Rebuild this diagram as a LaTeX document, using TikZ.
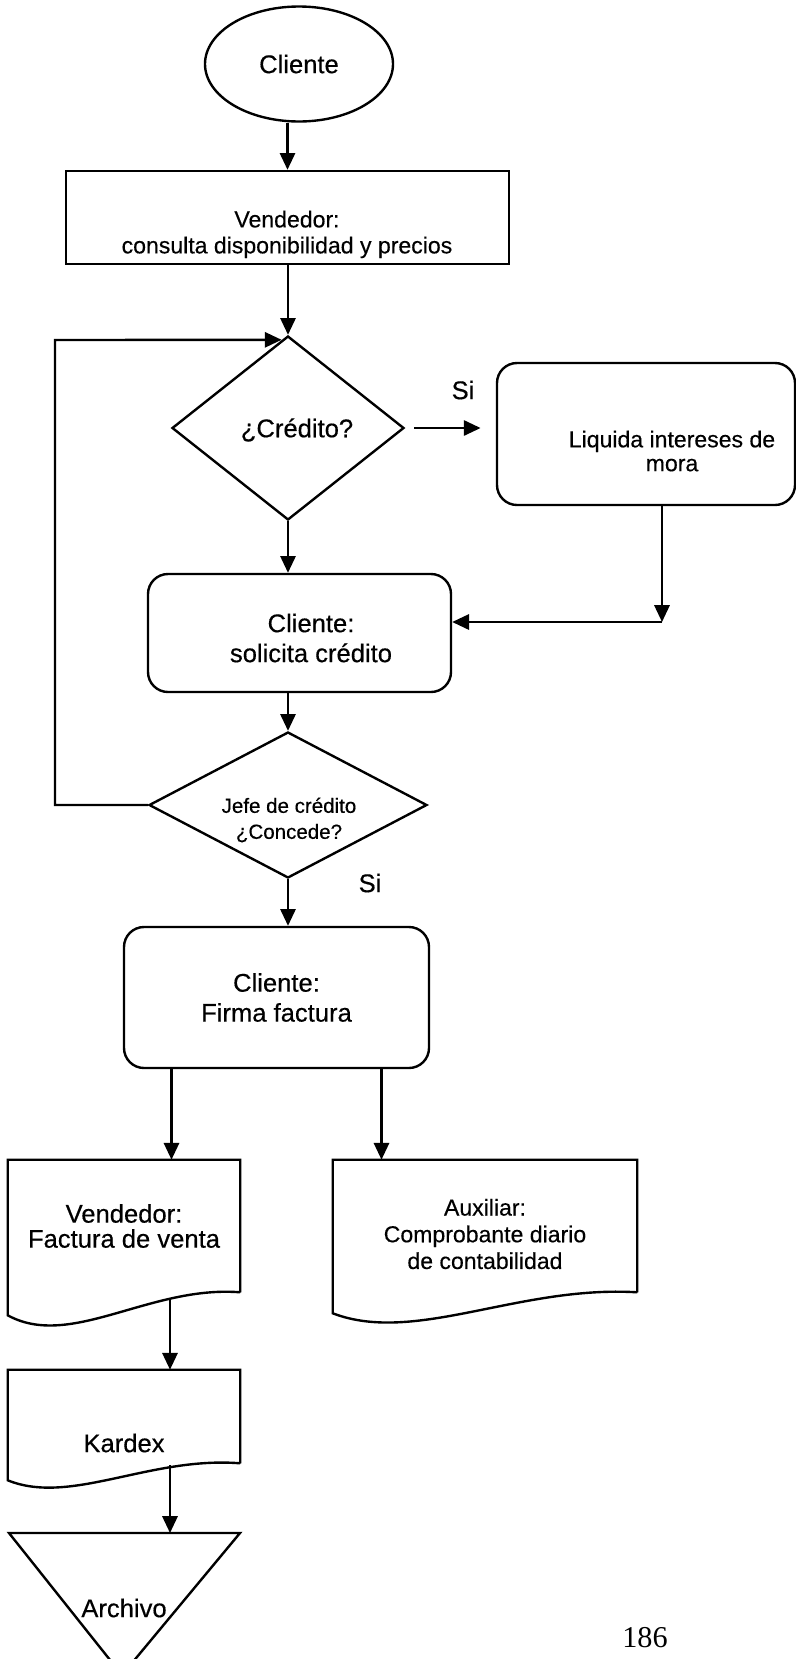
\documentclass[tikz,border=0pt]{standalone}
\usepackage{fontspec}
\setmainfont{Liberation Sans}[FakeBold=0.4]
\newfontfamily\numfont{Liberation Serif}
\usetikzlibrary{arrows.meta,calc,shapes.geometric}
\tikzset{
  arr/.style={-{Triangle[length=4.2mm,width=3.8mm]},line width=1.7pt},
  ln/.style={line width=1.7pt},
  proc/.style={draw,ln,inner sep=0pt},
  rproc/.style={proc,rounded corners=5mm},
  dec/.style={proc,diamond},
  term/.style={proc,ellipse},
  docb/.style={inner sep=0pt,align=center},
  big/.style={align=center,font=\fontsize{18.2}{21.3}\selectfont},
  mid/.style={align=center,font=\fontsize{16.4}{18.5}\selectfont},
  sml/.style={align=center,font=\fontsize{14.6}{18.5}\selectfont}
}
\newcommand{\docshape}[2]{\draw[ln] (#1.south east) -- (#1.north east) -- (#1.north west) -- ($(#1.south west)+(0,-#2)$) .. controls ($(#1.south west)!0.27!(#1.south east)+(0,-2.5*#2)$) and ($(#1.south west)!0.61!(#1.south east)+(0,0.18)$) .. (#1.south east);}
\begin{document}
\begin{tikzpicture}
  \useasboundingbox (0,0) rectangle (19.9,-41.475);
  \node[term,big,minimum width=4.7cm,minimum height=2.875cm] (cli) at (7.475,-1.6) {Cliente};
  \node[proc,minimum width=11.075cm,minimum height=2.325cm] (vend) at (7.1875,-5.4375) {};
  \node[mid] (vend-t) at (7.175,-5.86) {Vendedor:\\consulta disponibilidad y precios};
  \node[dec,minimum width=5.8cm,minimum height=4.6cm] (cred) at (7.2,-10.7) {};
  \node[big] (cred-t) at (7.425,-10.75) {¿Crédito?};
  \node[rproc,minimum width=7.45cm,minimum height=3.55cm] (liq) at (16.15,-10.85) {};
  \node[mid,font=\fontsize{16.4}{17}\selectfont] (liq-t) at (16.8,-11.275) {Liquida intereses de\\mora};
  \node[rproc,minimum width=7.575cm,minimum height=2.95cm] (sol) at (7.4875,-15.825) {};
  \node[big] (sol-t) at (7.775,-15.95) {Cliente:\\solicita crédito};
  \node[dec,minimum width=6.95cm,minimum height=3.65cm] (jefe) at (7.2,-20.125) {};
  \node[sml] (jefe-t) at (7.225,-20.5) {Jefe de crédito\\¿Concede?};
  \node[rproc,big,minimum width=7.625cm,minimum height=3.525cm] (firma) at (6.9125,-24.9375) {Cliente:\\Firma factura};
  \node[docb,minimum width=5.8cm,minimum height=3.3cm,font=\fontsize{18.2}{17.8}\selectfont] (vfact) at (3.1,-30.65) {Vendedor:\\Factura de venta};
  \node[docb,minimum width=7.6cm,minimum height=3.3cm] (aux) at (12.125,-30.65) {};
  \node[mid,font=\fontsize{16.4}{19}\selectfont] (aux-t) at (12.125,-30.85) {Auxiliar:\\Comprobante diario\\de contabilidad};
  \node[docb,minimum width=5.8cm,minimum height=2.325cm] (kard) at (3.1,-35.4125) {};
  \node[big] (kard-t) at (3.1,-36.075) {Kardex};

  \draw[arr] (cli.south -| vend.north) -- (vend.north);
  \draw[arr] (vend.south -| cred.north) -- (cred.north);
  \draw[arr] (cred.south) -- (cred.south |- sol.north);
  \draw[arr,shorten <=2.3mm,shorten >=3.8mm] (cred.east) -- (cred.east -| liq.west);
  \node[big] (si1) at (11.575,-9.75) {Si};
  \coordinate (liq-c) at (16.55,-15.55);
  \draw[arr] (liq.south -| liq-c) -- (liq-c);
  \draw[arr] (liq-c) -- (liq-c -| sol.east);
  \draw[arr] (sol.south -| jefe.north) -- (jefe.north);
  \coordinate (back) at (1.375,-8.5);
  \draw[arr] (jefe.west) -| (back) -- ($(cred.north)+(-0.16,-0.125)$);
  \draw[arr] (jefe.south) -- (jefe.south |- firma.north);
  \node[big] (si2) at (9.25,-22.075) {Si};
  \draw[arr] ($(firma.south)+(-2.625,0)$) coordinate (f1) -- (f1 |- vfact.north);
  \draw[arr] ($(firma.south)+(2.625,0)$) coordinate (f2) -- (f2 |- aux.north);

  \docshape{vfact}{0.575}
  \docshape{aux}{0.525}
  \docshape{kard}{0.425}
  \coordinate (vf-out) at (4.25,-32.5);
  \draw[arr] (vf-out) -- (vf-out |- kard.north);
  \coordinate (kd-out) at (4.25,-36.625);
  \coordinate (arch) at (3.1125,-38.325);
  \draw[arr] (kd-out) -- (kd-out |- arch);
  \draw[ln] ($(arch)+(-2.8875,0)$) -- ($(arch)+(2.8875,0)$) -- ($(arch)+(-0.0625,-3.55)$) -- cycle;
  \node[big] (arch-t) at (3.1,-40.2) {Archivo};
  \node[font=\numfont\fontsize{21.5}{24}\selectfont] (pag) at (16.125,-40.95) {186};
\end{tikzpicture}
\end{document}
